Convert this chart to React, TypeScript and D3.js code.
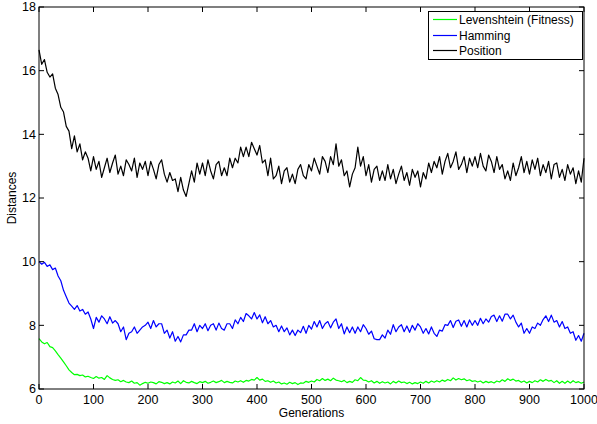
import React from "react";
import * as d3 from "d3";

// generations sampled every 5 steps (0..1000)
const GEN_STEP = 5;

const levenshtein: number[] = [
  7.58, 7.48, 7.42, 7.46, 7.33, 7.3, 7.2, 7.08, 6.97, 6.85, 6.73, 6.6, 6.52, 6.45, 6.46, 6.42, 6.44, 6.38, 6.4, 6.36,
  6.33, 6.39, 6.34, 6.36, 6.3, 6.42, 6.35, 6.3, 6.27, 6.29, 6.23, 6.27, 6.22, 6.2, 6.25, 6.18, 6.2, 6.12, 6.17, 6.21,
  6.18, 6.22, 6.2, 6.16, 6.23, 6.21, 6.17, 6.2, 6.16, 6.22, 6.19, 6.25, 6.17, 6.26, 6.21, 6.19, 6.24, 6.2, 6.17, 6.23,
  6.2, 6.24, 6.18, 6.21, 6.25, 6.2, 6.23, 6.27, 6.2, 6.24, 6.21, 6.19, 6.25, 6.22, 6.26, 6.21, 6.27, 6.25, 6.3, 6.28,
  6.36, 6.28, 6.31, 6.24, 6.26, 6.21, 6.25, 6.19, 6.22, 6.16, 6.19, 6.15, 6.21, 6.17, 6.2, 6.14, 6.19, 6.18, 6.24, 6.21,
  6.25, 6.22, 6.3, 6.26, 6.33, 6.27, 6.31, 6.26, 6.34, 6.28, 6.26, 6.23, 6.27, 6.2, 6.24, 6.21, 6.29, 6.26, 6.36, 6.28,
  6.27, 6.22, 6.26, 6.19, 6.24, 6.18, 6.23, 6.19, 6.22, 6.16, 6.24, 6.19, 6.25, 6.2, 6.22, 6.17, 6.21, 6.16, 6.2, 6.17,
  6.22, 6.18, 6.24, 6.19, 6.25, 6.21, 6.26, 6.22, 6.28, 6.24, 6.3, 6.26, 6.35, 6.28, 6.33, 6.29, 6.32, 6.26, 6.29, 6.24,
  6.26, 6.22, 6.25, 6.19, 6.24, 6.2, 6.23, 6.19, 6.25, 6.22, 6.29, 6.24, 6.32, 6.27, 6.31, 6.25, 6.27, 6.21, 6.25, 6.19,
  6.24, 6.2, 6.26, 6.22, 6.29, 6.24, 6.3, 6.25, 6.27, 6.2, 6.26, 6.18, 6.24, 6.18, 6.25, 6.19, 6.26, 6.2, 6.23, 6.18, 6.22,
];

const hamming: number[] = [
  10.0, 9.92, 9.98, 9.85, 9.9, 9.75, 9.8, 9.55, 9.4, 9.1, 8.9, 8.7, 8.6, 8.5, 8.62, 8.45, 8.5, 8.35, 8.42, 8.2,
  7.9, 8.25, 8.1, 8.3, 8.2, 8.05, 8.27, 8.07, 8.15, 8.05, 7.8, 7.95, 7.55, 7.75, 7.8, 7.95, 7.75, 7.85, 7.95, 8.0,
  8.1, 7.9, 8.15, 7.95, 8.05, 8.05, 7.75, 7.85, 7.6, 7.8, 7.5, 7.65, 7.48, 7.7, 7.7, 7.85, 7.85, 8.05, 7.8, 8.0,
  7.9, 8.05, 7.83, 8.0, 8.05, 7.85, 8.07, 7.9, 7.85, 8.05, 8.05, 7.9, 8.17, 8.05, 8.25, 8.12, 8.37, 8.3, 8.2, 8.4,
  8.2, 8.33, 8.08, 8.27, 8.05, 8.15, 7.95, 8.0, 7.8, 7.98, 7.8, 7.92, 7.7, 7.85, 7.68, 7.85, 7.77, 7.97, 7.75, 8.0,
  7.88, 8.12, 7.95, 8.15, 7.9, 8.05, 8.12, 7.92, 8.1, 8.2, 7.9, 8.05, 7.73, 7.95, 7.77, 7.95, 7.75, 7.95, 7.8, 8.02,
  7.9, 7.72, 7.82, 7.58, 7.55, 7.55, 7.7, 7.6, 7.85, 7.72, 8.02, 7.8, 7.95, 8.02, 7.8, 7.98, 7.78, 8.0, 7.85, 8.05,
  7.95, 7.75, 7.9, 7.73, 7.95, 7.75, 7.65, 7.85, 7.82, 8.02, 8.0, 8.15, 7.93, 8.13, 8.17, 7.97, 8.15, 7.95, 8.17, 8.0,
  8.15, 8.0, 8.22, 8.05, 8.2, 8.1, 8.28, 8.32, 8.12, 8.3, 8.13, 8.35, 8.35, 8.2, 8.32, 8.1, 7.95, 8.07, 7.75, 7.9,
  7.75, 7.95, 7.9, 8.07, 8.0, 8.18, 8.3, 8.12, 8.32, 8.1, 8.15, 7.95, 8.12, 7.9, 7.95, 7.75, 7.8, 7.53, 7.68, 7.5, 7.75,
];

const position: number[] = [
  16.65, 16.2, 16.35, 15.95, 15.8, 15.9, 15.45, 15.25, 14.85, 14.7, 14.25, 14.1, 13.55, 13.95, 13.45, 13.7, 13.2, 13.45, 13.25, 12.85,
  13.3, 12.9, 13.15, 12.65, 12.95, 13.25, 12.8, 13.1, 13.35, 12.75, 13.0, 12.7, 13.2, 13.05, 12.85, 13.25, 12.65, 13.1, 12.9, 13.15,
  12.7, 13.15, 12.9, 12.6, 13.05, 13.2, 12.75, 12.5, 12.8, 12.55, 12.6, 12.2, 12.65, 12.25, 12.05, 12.45, 12.85, 12.5, 13.1, 12.75,
  13.1, 12.7, 13.2, 12.85, 12.6, 13.05, 13.15, 12.7, 12.95, 12.7, 13.25, 12.95, 13.25, 13.1, 13.6, 13.3, 13.6, 13.3, 13.75, 13.55,
  13.35, 13.65, 13.1, 13.2, 12.7, 13.25, 12.6, 12.7, 13.0, 12.45, 12.85, 12.95, 12.5, 12.75, 12.45, 12.9, 13.05, 12.7, 12.6, 13.05,
  12.85, 13.25, 13.0, 12.75, 13.3, 13.15, 12.8, 13.3, 13.05, 13.7, 13.0, 13.2, 12.7, 12.85, 12.35, 12.75, 12.95, 13.6, 13.0, 13.3,
  12.7, 13.05, 12.5, 12.9, 13.0, 12.55, 12.85, 12.55, 13.05, 12.6, 12.9, 12.45, 12.75, 13.0, 12.55, 12.8, 12.4, 12.9, 12.65, 12.85,
  12.35, 12.8, 12.6, 13.1, 12.8, 13.15, 12.95, 13.3, 12.75, 13.15, 13.4, 12.95, 13.15, 13.45, 12.9, 13.05, 13.3, 12.8, 13.25, 13.0,
  13.3, 12.95, 13.4, 13.0, 12.85, 13.35, 13.15, 12.8, 13.3, 12.9, 13.05, 12.6, 12.85, 12.55, 13.1, 12.7, 12.95, 13.3, 12.8, 13.15,
  12.75, 13.2, 12.9, 13.25, 12.7, 13.05, 12.8, 13.15, 12.6, 13.05, 13.1, 12.65, 12.9, 12.55, 13.05, 12.75, 12.95, 12.45, 12.85, 12.5, 13.25,
];

const seriesNames = ["Levenshtein (Fitness)", "Hamming", "Position"];
const seriesColors = ["#00ff00", "#0000ff", "#000000"];
const xTicks = [0, 100, 200, 300, 400, 500, 600, 700, 800, 900, 1000];
const yTicks = [6, 8, 10, 12, 14, 16, 18];

const W = 597;
const H = 424;
const M = { left: 39, right: 13, top: 7, bottom: 35 };
const FONT = "'Liberation Sans', Arial, Helvetica, sans-serif";

export default function App() {
  const x = d3.scaleLinear().domain([0, 1000]).range([M.left, W - M.right]);
  const y = d3.scaleLinear().domain([6, 18]).range([H - M.bottom, M.top]);
  const all = [levenshtein, hamming, position];
  const line = d3
    .line<number>()
    .x((_, i) => x(i * GEN_STEP))
    .y((d) => y(d));
  const tl = 5;
  const x0 = M.left, x1 = W - M.right, y0 = M.top, y1 = H - M.bottom;
  const lx = 428.5, ly = 11.5, lw = 154, lh = 48;
  const rows = [19.5, 35.5, 50.5];
  return (
    <div style={{ position: "absolute", left: 0, top: 0 }}>
      <svg width={W} height={H} style={{ display: "block", background: "#fff" }}>
        <rect x={0} y={0} width={W} height={H} fill="#fff" />
        {all.map((s, k) => (
          <path key={k} d={line(s) || ""} fill="none" stroke={seriesColors[k]} strokeWidth={1.2} strokeLinejoin="round" />
        ))}
        {xTicks.map((t) => (
          <g key={"x" + t}>
            <line x1={x(t)} x2={x(t)} y1={y1} y2={y1 - tl} stroke="#000" />
            <line x1={x(t)} x2={x(t)} y1={y0} y2={y0 + tl} stroke="#000" />
            <text x={x(t)} y={y1 + 15} textAnchor="middle" fontFamily={FONT} fontSize={12.5}>
              {t}
            </text>
          </g>
        ))}
        {yTicks.map((t) => (
          <g key={"y" + t}>
            <line x1={x0} x2={x0 + tl} y1={y(t)} y2={y(t)} stroke="#000" />
            <line x1={x1} x2={x1 - tl} y1={y(t)} y2={y(t)} stroke="#000" />
            <text x={x0 - 3} y={y(t)} dy="0.35em" textAnchor="end" fontFamily={FONT} fontSize={12.5}>
              {t}
            </text>
          </g>
        ))}
        <rect x={x0} y={y0} width={x1 - x0} height={y1 - y0} fill="none" stroke="#000" strokeWidth={1} />
        <text x={(x0 + x1) / 2} y={H - 7} textAnchor="middle" fontFamily={FONT} fontSize={12}>
          Generations
        </text>
        <text
          transform={`translate(16, ${(y0 + y1) / 2}) rotate(-90)`}
          textAnchor="middle"
          fontFamily={FONT}
          fontSize={12}
        >
          Distances
        </text>
        <rect x={lx} y={ly} width={lw} height={lh} fill="#fff" stroke="#000" strokeWidth={1} />
        {seriesNames.map((n, k) => (
          <g key={n}>
            <line x1={433} x2={457} y1={rows[k]} y2={rows[k]} stroke={seriesColors[k]} strokeWidth={1.2} />
            <text x={459} y={rows[k]} dy="0.35em" fontFamily={FONT} fontSize={12}>
              {n}
            </text>
          </g>
        ))}
      </svg>
    </div>
  );
}
